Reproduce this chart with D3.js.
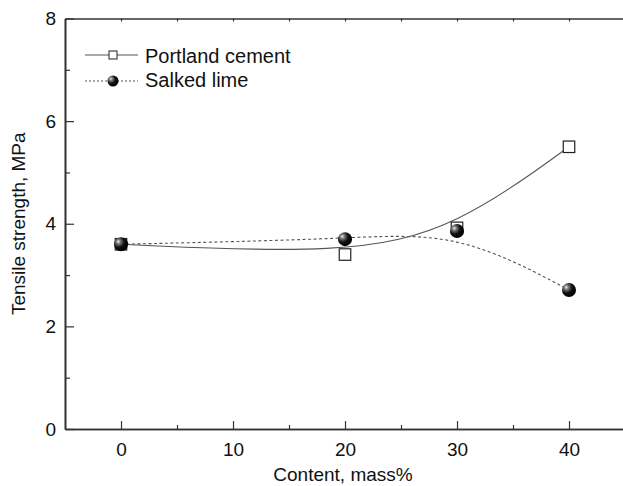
<!DOCTYPE html>
<html>
<head>
<meta charset="utf-8">
<script src="https://cdn.jsdelivr.net/npm/d3@7"></script>
<style>
  body { margin: 0; background: #fff; }
  text { font-family: "Liberation Sans", Arial, sans-serif; fill: #111; }
</style>
</head>
<body>
<div class="chart"></div>
<script>
// tensile strength vs additive content
var content = [0, 20, 30, 40];
var portland = [3.6, 3.4, 3.92, 5.5];
var lime = [3.6, 3.7, 3.86, 2.71];
var xTicks = [0, 10, 20, 30, 40];
var yTicks = [0, 2, 4, 6, 8];

var W = 623, H = 486;
var margins = { top: 18.5, right: -2, bottom: 57, left: 65 };
var width = W - margins.left - margins.right;
var height = H - margins.top - margins.bottom;

var x = d3.scaleLinear().domain([-5, 45]).range([0, width]);
var y = d3.scaleLinear().domain([0, 8]).range([height, 0]);

var svg = d3.select(".chart").append("svg")
    .attr("width", W)
    .attr("height", H)
    .append("g")
    .attr("transform", "translate(" + margins.left + "," + margins.top + ")");

var defs = svg.append("defs");
var grad = defs.append("radialGradient")
    .attr("id", "ball")
    .attr("cx", "35%").attr("cy", "35%").attr("r", "65%")
    .attr("fx", "30%").attr("fy", "30%");
grad.append("stop").attr("offset", "0%").attr("stop-color", "#eee");
grad.append("stop").attr("offset", "25%").attr("stop-color", "#777");
grad.append("stop").attr("offset", "60%").attr("stop-color", "#111");
grad.append("stop").attr("offset", "100%").attr("stop-color", "#000");

// bottom axis
var xAxis = svg.append("g")
    .attr("transform", "translate(0," + height + ")")
    .call(d3.axisBottom(x).tickValues(xTicks).tickSizeInner(-8).tickSizeOuter(0).tickPadding(14).tickFormat(d3.format("d")));
xAxis.selectAll("text").style("font-size", "19px");
svg.append("g")
    .attr("transform", "translate(0," + height + ")")
    .call(d3.axisBottom(x).tickValues([5, 15, 25, 35]).tickSizeInner(-4).tickSizeOuter(0).tickFormat(""));

// left axis
var yAxis = svg.append("g")
    .call(d3.axisLeft(y).tickValues(yTicks).tickSizeInner(-9).tickSizeOuter(0).tickPadding(9).tickFormat(d3.format("d")));
yAxis.selectAll("text").style("font-size", "19px");
svg.append("g")
    .call(d3.axisLeft(y).tickValues([1, 3, 5, 7]).tickSizeInner(-5).tickSizeOuter(0).tickFormat(""));

// top axis
svg.append("g")
    .call(d3.axisTop(x).tickValues(d3.range(0, 41, 5)).tickSizeInner(-3).tickSizeOuter(0).tickFormat(""));

svg.selectAll(".domain").attr("stroke", "#333").attr("stroke-width", 1.6);
svg.selectAll(".tick line").attr("stroke", "#333").attr("stroke-width", 1.2);

svg.append("text")
    .attr("x", width / 2 - 2)
    .attr("y", height + 52)
    .attr("text-anchor", "middle")
    .style("font-size", "19px")
    .text("Content, mass%");

svg.append("text")
    .attr("transform", "rotate(-90)")
    .attr("x", -height / 2)
    .attr("y", -40)
    .attr("text-anchor", "middle")
    .style("font-size", "19px")
    .text("Tensile strength, MPa");

// curves
var line = d3.line()
    .x(function (d) { return x(d[0]); })
    .y(function (d) { return y(d[1]); })
    .curve(d3.curveBasis);

var pData = content.map(function (c, i) { return [c, portland[i]]; });
var lData = content.map(function (c, i) { return [c, lime[i]]; });

svg.append("path")
    .datum(pData)
    .attr("d", line)
    .attr("fill", "none")
    .attr("stroke", "#555")
    .attr("stroke-width", 1.1);

svg.append("path")
    .datum(lData)
    .attr("d", line)
    .attr("fill", "none")
    .attr("stroke", "#555")
    .attr("stroke-width", 1.1)
    .attr("stroke-dasharray", "3,2.5");

var sq = 11.5;
svg.selectAll(".sq")
    .data(pData)
    .enter().append("rect")
    .attr("class", "sq")
    .attr("x", function (d) { return x(d[0]) - sq / 2; })
    .attr("y", function (d) { return y(d[1]) - sq / 2; })
    .attr("width", sq)
    .attr("height", sq)
    .attr("fill", "#fff")
    .attr("stroke", "#222")
    .attr("stroke-width", 1.2);

svg.selectAll(".ball")
    .data(lData)
    .enter().append("circle")
    .attr("class", "ball")
    .attr("cx", function (d) { return x(d[0]); })
    .attr("cy", function (d) { return y(d[1]); })
    .attr("r", 7)
    .attr("fill", "url(#ball)");

// legend
var lg = svg.append("g").attr("transform", "translate(" + (85 - margins.left) + "," + (55 - margins.top) + ")");
lg.append("line").attr("x1", 0).attr("x2", 53).attr("y1", 0).attr("y2", 0)
    .attr("stroke", "#555").attr("stroke-width", 1.1);
lg.append("rect").attr("x", 24).attr("y", -4).attr("width", 8).attr("height", 8)
    .attr("fill", "#fff").attr("stroke", "#222").attr("stroke-width", 1);
lg.append("text").attr("x", 60).attr("y", 8).style("font-size", "20px").text("Portland cement");

lg.append("line").attr("x1", 0).attr("x2", 53).attr("y1", 26).attr("y2", 26)
    .attr("stroke", "#555").attr("stroke-width", 1.1).attr("stroke-dasharray", "2,2");
lg.append("circle").attr("cx", 28).attr("cy", 26).attr("r", 5.5).attr("fill", "url(#ball)");
lg.append("text").attr("x", 60).attr("y", 32).style("font-size", "20px").text("Salked lime");
</script>
</body>
</html>
